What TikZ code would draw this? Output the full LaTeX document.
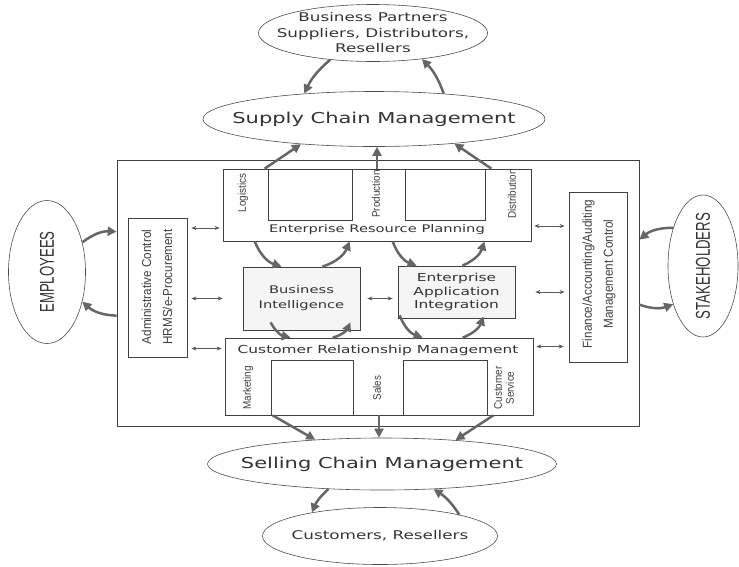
\documentclass[tikz,border=0pt]{standalone}
\usepackage{fontspec}
\usetikzlibrary{shapes.geometric,arrows.meta}
\newfontfamily\widefont[FakeStretch=1.4]{DejaVu Sans}
\newfontfamily\narrowfont[FakeStretch=0.9]{Liberation Sans}
\newfontfamily\tallfont[FakeStretch=0.66]{Liberation Sans}
\begin{document}
\begin{tikzpicture}[x=1pt,y=-1pt,
  oval/.style={ellipse,draw=black!70,line width=0.6pt,inner sep=0pt},
  box/.style={draw=black!75,line width=0.7pt,inner sep=0pt,align=center,text=black!80},
  tag/.style={font=\narrowfont\fontsize{11}{12}\selectfont,text=black!75,rotate=90,align=center},
  heading/.style={font=\widefont\fontsize{10.5}{12}\selectfont,text=black!80},
  flow/.style={draw=black!60,line width=2.5pt,-{Triangle[length=9pt,width=9pt]}},
  link/.style={draw=black!65,line width=0.7pt,{Stealth[length=5pt,width=4pt]}-{Stealth[length=5pt,width=4pt]}}]
\useasboundingbox (0,0) rectangle (739,566);
\node[oval,minimum width=229,minimum height=57,
  label={[font=\widefont\fontsize{12}{15.5}\selectfont,text=black!80,align=center]center:Business Partners\\Suppliers, Distributors,\\Resellers}] (partners) at (373,33) {};
\node[oval,minimum width=342,minimum height=55,
  label={[font=\widefont\fontsize{15}{17}\selectfont,text=black!80]center:Supply Chain Management}] (scm) at (374,119) {};
\node[oval,minimum width=349,minimum height=52,
  label={[font=\widefont\fontsize{15}{17}\selectfont,text=black!80]center:Selling Chain Management}] (selling) at (382,464) {};
\node[oval,minimum width=235,minimum height=57,
  label={[font=\widefont\fontsize{12}{14}\selectfont,text=black!80]center:Customers, Resellers}] (customers) at (380,536) {};
\node[oval,minimum width=77,minimum height=143,
  label={[font=\tallfont\fontsize{20}{22}\selectfont,text=black!80,rotate=90]center:EMPLOYEES}] (employees) at (47,272) {};
\node[oval,minimum width=70,minimum height=142,
  label={[font=\tallfont\fontsize{20}{22}\selectfont,text=black!80,rotate=90]center:STAKEHOLDERS}] (stakeholders) at (703,266) {};

\node[box,minimum width=522,minimum height=266] (frame) at (378,293) {};
\node[box,minimum width=308,minimum height=72] (erp) at (377,205) {};
\node[box,minimum width=308,minimum height=77] (crm) at (379,376.5) {};
\node[box,minimum width=59,minimum height=139] (admin) at (157.5,287.5) {};
\node[box,minimum width=58,minimum height=170] (finance) at (598,277) {};
\node[box,fill=black!4,minimum width=117,minimum height=63,font=\widefont\fontsize{10.5}{15}\selectfont] (bi) at (301.5,298.5) {Business\\Intelligence};
\node[box,fill=black!4,minimum width=117,minimum height=52,font=\widefont\fontsize{11}{13.5}\selectfont] (eai) at (456.5,292) {Enterprise\\Application\\Integration};

\draw[black!75,line width=0.7pt] (268,169) rectangle (352,220);
\draw[black!75,line width=0.7pt] (405,169) rectangle (485,220);
\draw[black!75,line width=0.7pt] (271,415) rectangle (353,360);
\draw[black!75,line width=0.7pt] (403,415) rectangle (487,360);

\node[heading] (erp-title) at (377,230) {Enterprise Resource Planning};
\node[heading,font=\widefont\fontsize{11}{12}\selectfont] (crm-title) at (378,350) {Customer Relationship Management};
\node[tag] (logistics) at (243,193) {Logistics};
\node[tag] (production) at (376,194) {Production};
\node[tag] (distribution) at (512,194) {Distribution};
\node[tag] (marketing) at (248,388) {Marketing};
\node[tag] (sales) at (377,388) {Sales};
\node[tag] (service) at (504,388) {Customer\\Service};
\node[tag,font=\narrowfont\fontsize{13}{21}\selectfont] (admin-text) at (157,287) {Administrative Control\\HRMS/e-Procurement};
\node[tag,font=\narrowfont\fontsize{13}{21}\selectfont] (finance-text) at (599,274) {Finance/Accounting/Auditing\\Management Control};

\draw[flow] (partners.212) to[bend right=12] (scm.160);
\draw[flow] (scm.20) to[bend right=12] (partners.332);
\draw[flow] ([xshift=42pt]erp.north west) -- (scm.199);
\draw[flow] (erp.north) -- (erp.north |- scm.south);
\draw[flow] ([xshift=-40pt]erp.north east) -- (scm.343);

\draw[flow] ([xshift=32pt]erp.south west) to[bend right=25] ([xshift=39pt]bi.north west);
\draw[flow] ([xshift=-38pt]bi.north east) to[bend right=25] ([xshift=127pt]erp.south west);
\draw[flow] ([xshift=170pt]erp.south west) to[bend right=25] ([xshift=19pt]eai.north west);
\draw[flow] ([xshift=-53pt]eai.north east) to[bend right=25] ([xshift=-47pt]erp.south east);
\draw[flow] ([xshift=28pt,yshift=8pt]bi.south west) to[bend right=25] ([xshift=66pt]crm.north west);
\draw[flow] ([xshift=108pt]crm.north west) to[bend right=25] ([xshift=-10pt,yshift=8pt]bi.south east);
\draw[flow] ([xshift=2pt,yshift=3pt]eai.south west) to[bend right=25] ([xshift=198pt]crm.north west);
\draw[flow] ([xshift=238pt]crm.north west) to[bend right=25] ([xshift=-32pt,yshift=2pt]eai.south east);

\draw[flow] ([xshift=48pt]crm.south west) -- (selling.160);
\draw[flow] (crm.south) -- (crm.south |- selling.north);
\draw[flow] ([xshift=-40pt]crm.south east) -- (selling.18);
\draw[flow] (selling.205) to[bend right=12] (customers.161);
\draw[flow] (customers.15) to[bend right=12] (selling.334);

\draw[flow] (employees.40) to[bend left=20] ([yshift=-72pt]frame.north west);
\draw[flow] ([yshift=-156pt]frame.north west) to[bend left=20] (employees.320);
\draw[flow] (stakeholders.128) to[bend right=20] ([yshift=-80pt]frame.north east);
\draw[flow] ([yshift=-145pt]frame.north east) to[bend right=20] (stakeholders.232);

\draw[link] ([xshift=4pt,yshift=-23pt]admin.east |- erp.west) -- ([xshift=-3pt,yshift=-23pt]erp.west);
\draw[link] ([xshift=4pt]admin.east |- bi.west) -- ([xshift=-20pt]bi.west);
\draw[link] ([xshift=4pt,yshift=28pt]admin.east |- crm.west) -- ([xshift=-3pt,yshift=28pt]crm.west);
\draw[link] ([xshift=3pt,yshift=-21pt]erp.east) -- ([xshift=-4pt,yshift=-21pt]finance.west |- erp.east);
\draw[link] ([xshift=20pt]eai.east) -- ([xshift=-4pt]finance.west |- eai.east);
\draw[link] ([xshift=3pt,yshift=30pt]crm.east) -- ([xshift=-5pt,yshift=30pt]finance.west |- crm.east);
\draw[link] ([xshift=7pt]bi.east) -- ([xshift=-5pt]eai.west |- bi.east);
\end{tikzpicture}
\end{document}
